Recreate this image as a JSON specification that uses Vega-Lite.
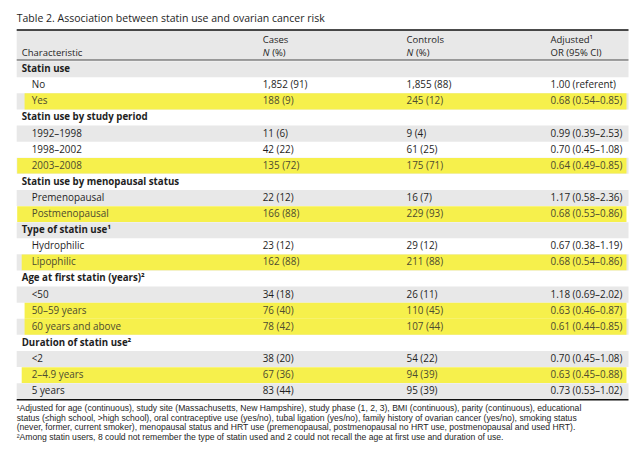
{
  "$schema": "https://vega.github.io/schema/vega-lite/v6.json",
  "width": 640,
  "height": 453,
  "padding": 0,
  "autosize": {"type": "fit", "contains": "padding"},
  "background": "white",
  "config": {"view": {"stroke": null}, "text": {"font": "Open Sans", "fontSize": 9.9, "color": "#1e1e1e", "baseline": "middle", "align": "left"}},
  "datasets": {
    "rows": [
      {"row": 0, "kind": "group", "label": "Statin use", "cases": "", "controls": "", "or": ""},
      {"row": 1, "kind": "item", "label": "No", "cases": "1,852 (91)", "controls": "1,855 (88)", "or": "1.00 (referent)"},
      {"row": 2, "kind": "item", "label": "Yes", "cases": "188 (9)", "controls": "245 (12)", "or": "0.68 (0.54–0.85)"},
      {"row": 3, "kind": "group", "label": "Statin use by study period", "cases": "", "controls": "", "or": ""},
      {"row": 4, "kind": "item", "label": "1992–1998", "cases": "11 (6)", "controls": "9 (4)", "or": "0.99 (0.39–2.53)"},
      {"row": 5, "kind": "item", "label": "1998–2002", "cases": "42 (22)", "controls": "61 (25)", "or": "0.70 (0.45–1.08)"},
      {"row": 6, "kind": "item", "label": "2003–2008", "cases": "135 (72)", "controls": "175 (71)", "or": "0.64 (0.49–0.85)"},
      {"row": 7, "kind": "group", "label": "Statin use by menopausal status", "cases": "", "controls": "", "or": ""},
      {"row": 8, "kind": "item", "label": "Premenopausal", "cases": "22 (12)", "controls": "16 (7)", "or": "1.17 (0.58–2.36)"},
      {"row": 9, "kind": "item", "label": "Postmenopausal", "cases": "166 (88)", "controls": "229 (93)", "or": "0.68 (0.53–0.86)"},
      {"row": 10, "kind": "group", "label": "Type of statin use¹", "cases": "", "controls": "", "or": ""},
      {"row": 11, "kind": "item", "label": "Hydrophilic", "cases": "23 (12)", "controls": "29 (12)", "or": "0.67 (0.38–1.19)"},
      {"row": 12, "kind": "item", "label": "Lipophilic", "cases": "162 (88)", "controls": "211 (88)", "or": "0.68 (0.54–0.86)"},
      {"row": 13, "kind": "group", "label": "Age at first statin (years)²", "cases": "", "controls": "", "or": ""},
      {"row": 14, "kind": "item", "label": "<50", "cases": "34 (18)", "controls": "26 (11)", "or": "1.18 (0.69–2.02)"},
      {"row": 15, "kind": "item", "label": "50–59 years", "cases": "76 (40)", "controls": "110 (45)", "or": "0.63 (0.46–0.87)"},
      {"row": 16, "kind": "item", "label": "60 years and above", "cases": "78 (42)", "controls": "107 (44)", "or": "0.61 (0.44–0.85)"},
      {"row": 17, "kind": "group", "label": "Duration of statin use²", "cases": "", "controls": "", "or": ""},
      {"row": 18, "kind": "item", "label": "<2", "cases": "38 (20)", "controls": "54 (22)", "or": "0.70 (0.45–1.08)"},
      {"row": 19, "kind": "item", "label": "2–4.9 years", "cases": "67 (36)", "controls": "94 (39)", "or": "0.63 (0.45–0.88)"},
      {"row": 20, "kind": "item", "label": "5 years", "cases": "83 (44)", "controls": "95 (39)", "or": "0.73 (0.53–1.02)"}
    ],
    "one": [{"part": "frame"}]
  },
  "data": {"name": "rows"},
  "layer": [
    {
      "data": {"name": "one"},
      "mark": {"type": "rect", "color": "#e8e8e8"},
      "encoding": {
        "x": {"datum": -1, "type": "quantitative", "axis": null, "scale": {"domain": [-1, 0, 1, 2, 3, 4], "range": [16.7, 21.7, 262.7, 406.5, 550.5, 628.5], "zero": false, "nice": false}},
        "x2": {"datum": 4},
        "y": {"datum": -2.43, "type": "quantitative", "axis": null, "scale": {"domain": [-4.298, 23.84], "range": [0, 453], "zero": false, "nice": false}},
        "y2": {"datum": -0.57}
      }
    },
    {
      "transform": [{"filter": "datum.row % 2 == 0"}],
      "mark": {"type": "rule", "color": "#e8e8e8", "strokeWidth": 16.1, "strokeCap": "butt"},
      "encoding": {
        "x": {"datum": -1, "type": "quantitative"},
        "x2": {"datum": 4},
        "y": {"field": "row", "type": "quantitative"}
      }
    },
    {
      "transform": [{"filter": {"field": "row", "oneOf": [6, 9]}}],
      "mark": {"type": "rule", "color": "#f6f04c", "strokeWidth": 15.6, "strokeCap": "butt"},
      "encoding": {
        "x": {"datum": -0.9, "type": "quantitative"},
        "x2": {"datum": 3.974},
        "y": {"field": "row", "type": "quantitative"}
      }
    },
    {
      "transform": [{"filter": {"field": "row", "oneOf": [12, 19]}}],
      "mark": {"type": "rule", "color": "#f6f04c", "strokeWidth": 15.6, "strokeCap": "butt"},
      "encoding": {
        "x": {"datum": 0, "type": "quantitative"},
        "x2": {"datum": 3.974},
        "y": {"field": "row", "type": "quantitative"}
      }
    },
    {
      "transform": [{"filter": {"field": "row", "oneOf": [2, 15, 16]}}],
      "mark": {"type": "rule", "color": "#f6f04c", "strokeWidth": 16.1, "strokeCap": "butt"},
      "encoding": {
        "x": {"datum": 0.012, "type": "quantitative"},
        "x2": {"datum": 3.974},
        "y": {"field": "row", "type": "quantitative"}
      }
    },
    {
      "data": {"name": "one"},
      "mark": {"type": "rule", "color": "#111", "strokeWidth": 1.5},
      "encoding": {"x": {"datum": -1, "type": "quantitative"}, "x2": {"datum": 4}, "y": {"datum": -2.43, "type": "quantitative"}}
    },
    {
      "data": {"name": "one"},
      "mark": {"type": "rule", "color": "#444", "strokeWidth": 1},
      "encoding": {"x": {"datum": -1, "type": "quantitative"}, "x2": {"datum": 4}, "y": {"datum": -0.57, "type": "quantitative"}}
    },
    {
      "data": {"name": "one"},
      "mark": {"type": "rule", "color": "#111", "strokeWidth": 1.5},
      "encoding": {"x": {"datum": -1, "type": "quantitative"}, "x2": {"datum": 4}, "y": {"datum": 20.54, "type": "quantitative"}}
    },
    {
      "data": {"name": "one"},
      "mark": {"type": "text", "fontSize": 10.5},
      "encoding": {"x": {"datum": -1, "type": "quantitative"}, "y": {"datum": -3.12, "type": "quantitative"}, "text": {"value": "Table 2. Association between statin use and ovarian cancer risk"}}
    },
    {
      "data": {"name": "one"},
      "mark": {"type": "text", "fontSize": 9.5},
      "encoding": {"x": {"datum": 0, "type": "quantitative"}, "y": {"datum": -1.03, "type": "quantitative"}, "text": {"value": "Characteristic"}}
    },
    {
      "data": {"name": "one"},
      "mark": {"type": "text", "fontSize": 9.5},
      "encoding": {"x": {"datum": 1, "type": "quantitative"}, "y": {"datum": -1.84, "type": "quantitative"}, "text": {"value": "Cases"}}
    },
    {
      "data": {"name": "one"},
      "mark": {"type": "text", "fontSize": 9.5},
      "encoding": {"x": {"datum": 2, "type": "quantitative"}, "y": {"datum": -1.84, "type": "quantitative"}, "text": {"value": "Controls"}}
    },
    {
      "data": {"name": "one"},
      "mark": {"type": "text", "fontSize": 9.5},
      "encoding": {"x": {"datum": 3, "type": "quantitative"}, "y": {"datum": -1.84, "type": "quantitative"}, "text": {"value": "Adjusted¹"}}
    },
    {
      "data": {"name": "one"},
      "mark": {"type": "text", "fontStyle": "italic", "fontSize": 9.5},
      "encoding": {"x": {"datum": 1, "type": "quantitative"}, "y": {"datum": -1.03, "type": "quantitative"}, "text": {"value": "N"}}
    },
    {
      "data": {"name": "one"},
      "mark": {"type": "text", "dx": 9.5, "fontSize": 9.5},
      "encoding": {"x": {"datum": 1, "type": "quantitative"}, "y": {"datum": -1.03, "type": "quantitative"}, "text": {"value": "(%)"}}
    },
    {
      "data": {"name": "one"},
      "mark": {"type": "text", "fontStyle": "italic", "fontSize": 9.5},
      "encoding": {"x": {"datum": 2, "type": "quantitative"}, "y": {"datum": -1.03, "type": "quantitative"}, "text": {"value": "N"}}
    },
    {
      "data": {"name": "one"},
      "mark": {"type": "text", "dx": 9.5, "fontSize": 9.5},
      "encoding": {"x": {"datum": 2, "type": "quantitative"}, "y": {"datum": -1.03, "type": "quantitative"}, "text": {"value": "(%)"}}
    },
    {
      "data": {"name": "one"},
      "mark": {"type": "text", "fontSize": 9.5},
      "encoding": {"x": {"datum": 3, "type": "quantitative"}, "y": {"datum": -1.03, "type": "quantitative"}, "text": {"value": "OR (95% CI)"}}
    },
    {
      "transform": [{"filter": "datum.kind == 'group'"}],
      "mark": {"type": "text", "fontWeight": "bold", "fontSize": 9.7},
      "encoding": {"x": {"datum": 0, "type": "quantitative"}, "y": {"field": "row", "type": "quantitative"}, "text": {"field": "label"}}
    },
    {
      "transform": [{"filter": "datum.kind == 'item'"}],
      "mark": {"type": "text", "dx": 10},
      "encoding": {"x": {"datum": 0, "type": "quantitative"}, "y": {"field": "row", "type": "quantitative"}, "text": {"field": "label"},
        "color": {"condition": {"test": "indexof([2,6,9,12,15,16,19], datum.row) >= 0", "value": "#4d4b30"}, "value": "#1e1e1e"}}
    },
    {
      "mark": {"type": "text"},
      "encoding": {"x": {"datum": 1, "type": "quantitative"}, "y": {"field": "row", "type": "quantitative"}, "text": {"field": "cases"},
        "color": {"condition": {"test": "indexof([2,6,9,12,15,16,19], datum.row) >= 0", "value": "#4d4b30"}, "value": "#1e1e1e"}}
    },
    {
      "mark": {"type": "text"},
      "encoding": {"x": {"datum": 2, "type": "quantitative"}, "y": {"field": "row", "type": "quantitative"}, "text": {"field": "controls"},
        "color": {"condition": {"test": "indexof([2,6,9,12,15,16,19], datum.row) >= 0", "value": "#4d4b30"}, "value": "#1e1e1e"}}
    },
    {
      "mark": {"type": "text"},
      "encoding": {"x": {"datum": 3, "type": "quantitative"}, "y": {"field": "row", "type": "quantitative"}, "text": {"field": "or"},
        "color": {"condition": {"test": "indexof([2,6,9,12,15,16,19], datum.row) >= 0", "value": "#4d4b30"}, "value": "#1e1e1e"}}
    },
    {
      "data": {"name": "one"},
      "mark": {"type": "text", "font": "Liberation Sans", "fontSize": 8.6, "lineHeight": 9.7, "baseline": "middle"},
      "encoding": {"x": {"datum": -1, "type": "quantitative"}, "y": {"datum": 21.05, "type": "quantitative"},
        "text": {"value": ["¹Adjusted for age (continuous), study site (Massachusetts, New Hampshire), study phase (1, 2, 3), BMI (continuous), parity (continuous), educational", "status (≤high school, >high school), oral contraceptive use (yes/no), tubal ligation (yes/no), family history of ovarian cancer (yes/no), smoking status", "(never, former, current smoker), menopausal status and HRT use (premenopausal, postmenopausal no HRT use, postmenopausal and used HRT).", "²Among statin users, 8 could not remember the type of statin used and 2 could not recall the age at first use and duration of use."]}}
    }
  ]
}
